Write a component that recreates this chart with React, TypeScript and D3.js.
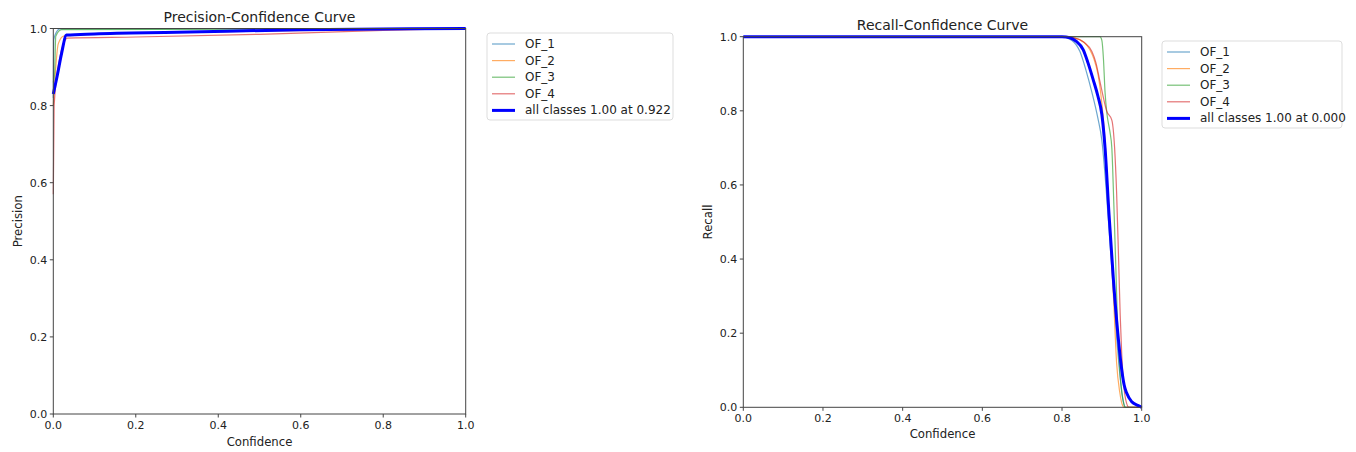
import React from "react";
import * as d3 from "d3";

const classNames = ["OF_1", "OF_2", "OF_3", "OF_4"];
const classColors = ["#1f77b4", "#ff7f0e", "#2ca02c", "#d62728"];
const allColor = "#0000ff";
const ticks = [0, 0.2, 0.4, 0.6, 0.8, 1.0];

// Precision-Confidence: [confidence, precision]
const precOF1: [number, number][] = [[0, 0.82], [0.001, 0.97], [0.005, 0.985], [0.016, 0.999], [1, 1]];
const precOF2: [number, number][] = [[0, 0.8], [0.004, 0.87], [0.012, 0.96], [0.025, 0.98], [0.1, 0.985], [0.5, 0.993], [1, 1]];
const precOF3: [number, number][] = [[0, 0.86], [0.003, 0.88], [0.006, 0.98], [0.02, 0.997], [1, 1]];
const precOF4: [number, number][] = [[0, 0.57], [0.002, 0.8], [0.015, 0.92], [0.035, 0.975], [0.2, 0.978], [0.5, 0.985], [0.8, 0.995], [1, 1]];
const precAll: [number, number][] = [[0, 0.83], [0.01, 0.88], [0.02, 0.935], [0.032, 0.983], [0.1, 0.986], [0.3, 0.99], [0.6, 0.997], [0.8, 0.999], [1, 1]];

// Recall-Confidence: [confidence, recall]
const recOF1: [number, number][] = [[0, 1], [0.8, 1], [0.825, 0.99], [0.845, 0.96], [0.86, 0.91], [0.875, 0.85], [0.89, 0.78], [0.9, 0.72], [0.91, 0.6], [0.92, 0.45], [0.93, 0.3], [0.94, 0.15], [0.948, 0.06], [0.955, 0.01], [0.96, 0], [1, 0]];
const recOF2: [number, number][] = [[0, 1], [0.8, 1], [0.83, 0.997], [0.855, 0.985], [0.87, 0.965], [0.88, 0.94], [0.89, 0.9], [0.9, 0.82], [0.908, 0.72], [0.915, 0.58], [0.922, 0.45], [0.93, 0.28], [0.937, 0.12], [0.945, 0.04], [0.952, 0.005], [0.956, 0], [1, 0]];
const recOF3: [number, number][] = [[0, 1], [0.895, 1], [0.9, 0.99], [0.904, 0.94], [0.908, 0.85], [0.913, 0.79], [0.92, 0.745], [0.925, 0.7], [0.93, 0.55], [0.935, 0.38], [0.94, 0.2], [0.945, 0.1], [0.95, 0.04], [0.955, 0.01], [0.958, 0], [1, 0]];
const recOF4: [number, number][] = [[0, 1], [0.8, 1], [0.83, 0.997], [0.855, 0.985], [0.875, 0.96], [0.885, 0.93], [0.895, 0.88], [0.905, 0.83], [0.912, 0.8], [0.925, 0.775], [0.932, 0.7], [0.937, 0.58], [0.942, 0.4], [0.946, 0.25], [0.95, 0.14], [0.955, 0.06], [0.96, 0.02], [0.968, 0], [1, 0]];
const recAll: [number, number][] = [[0, 1], [0.8, 1], [0.82, 0.997], [0.835, 0.988], [0.853, 0.965], [0.865, 0.93], [0.878, 0.885], [0.89, 0.84], [0.9, 0.79], [0.908, 0.7], [0.918, 0.52], [0.929, 0.344], [0.94, 0.2], [0.95, 0.1], [0.956, 0.06], [0.962, 0.039], [0.975, 0.015], [0.99, 0.005], [1, 0]];

const precSeries = [precOF1, precOF2, precOF3, precOF4];
const recSeries = [recOF1, recOF2, recOF3, recOF4];
const precAllLabel = "all classes 1.00 at 0.922";
const recAllLabel = "all classes 1.00 at 0.000";

const FONT = "DejaVu Sans, sans-serif";
const TXT = "#222";

type PanelProps = {
  x0: number; x1: number; y0: number; y1: number;
  title: string; titleY: number; ylabel: string; ylabelX: number; xlabelY: number;
  series: [number, number][][]; all: [number, number][]; allLabel: string;
  legX: number; legY: number; legW: number;
};

function Panel(p: PanelProps) {
  const x = d3.scaleLinear().domain([0, 1]).range([p.x0, p.x1]);
  const y = d3.scaleLinear().domain([0, 1]).range([p.y1, p.y0]);
  const line = d3.line<[number, number]>().x((d) => x(d[0])).y((d) => y(d[1])).curve(d3.curveMonotoneX);
  const rowH = 16.6;
  const labels = [...classNames, p.allLabel];
  return (
    <g>
      <text x={(p.x0 + p.x1) / 2} y={p.titleY} textAnchor="middle" fontSize={14} fill={TXT} fontFamily={FONT}>{p.title}</text>
      {p.series.map((s, i) => (
        <path key={i} d={line(s) || ""} fill="none" stroke={classColors[i]} strokeOpacity={0.65} strokeWidth={1.2} />
      ))}
      <path d={line(p.all) || ""} fill="none" stroke={allColor} strokeWidth={3} strokeLinejoin="round" />
      <rect x={p.x0} y={p.y0} width={p.x1 - p.x0} height={p.y1 - p.y0} fill="none" stroke="#444" strokeWidth={1} />
      {ticks.map((t) => (
        <g key={"x" + t}>
          <line x1={x(t)} x2={x(t)} y1={p.y1} y2={p.y1 + 3.5} stroke="#444" />
          <text x={x(t)} y={p.y1 + 15} textAnchor="middle" fontSize={11} fill={TXT} fontFamily={FONT}>{t.toFixed(1)}</text>
        </g>
      ))}
      {ticks.map((t) => (
        <g key={"y" + t}>
          <line x1={p.x0 - 3.5} x2={p.x0} y1={y(t)} y2={y(t)} stroke="#444" />
          <text x={p.x0 - 6} y={y(t) + 4} textAnchor="end" fontSize={11} fill={TXT} fontFamily={FONT}>{t.toFixed(1)}</text>
        </g>
      ))}
      <text x={(p.x0 + p.x1) / 2} y={p.xlabelY} textAnchor="middle" fontSize={11.7} fill={TXT} fontFamily={FONT}>Confidence</text>
      <text transform={`translate(${p.ylabelX},${(p.y0 + p.y1) / 2}) rotate(-90)`} textAnchor="middle" fontSize={11.7} fill={TXT} fontFamily={FONT}>{p.ylabel}</text>
      <rect x={p.legX} y={p.legY} width={p.legW} height={rowH * 5 + 4} rx={3} fill="white" fillOpacity={0.8} stroke="#ddd" />
      {labels.map((l, i) => {
        const cy = p.legY + 11 + i * rowH;
        const isAll = i === 4;
        return (
          <g key={l}>
            <line x1={p.legX + 5} x2={p.legX + 28} y1={cy} y2={cy} stroke={isAll ? allColor : classColors[i]} strokeOpacity={isAll ? 1 : 0.65} strokeWidth={isAll ? 3 : 1.2} />
            <text x={p.legX + 38} y={cy + 4} fontSize={12} fill={TXT} fontFamily={FONT}>{l}</text>
          </g>
        );
      })}
    </g>
  );
}

export default function App() {
  return (
    <svg width={1356} height={452} style={{ position: "absolute", left: 0, top: 0, background: "white" }}>
      <rect width={1356} height={452} fill="white" />
      <Panel x0={53.3} x1={465.7} y0={28.5} y1={414} title="Precision-Confidence Curve" titleY={22}
        ylabel="Precision" ylabelX={22} xlabelY={446} series={precSeries} all={precAll} allLabel={precAllLabel}
        legX={487} legY={33} legW={186} />
      <Panel x0={743.3} x1={1141.7} y0={36.7} y1={407.3} title="Recall-Confidence Curve" titleY={30}
        ylabel="Recall" ylabelX={712} xlabelY={438} series={recSeries} all={recAll} allLabel={recAllLabel}
        legX={1162} legY={41} legW={180} />
    </svg>
  );
}
